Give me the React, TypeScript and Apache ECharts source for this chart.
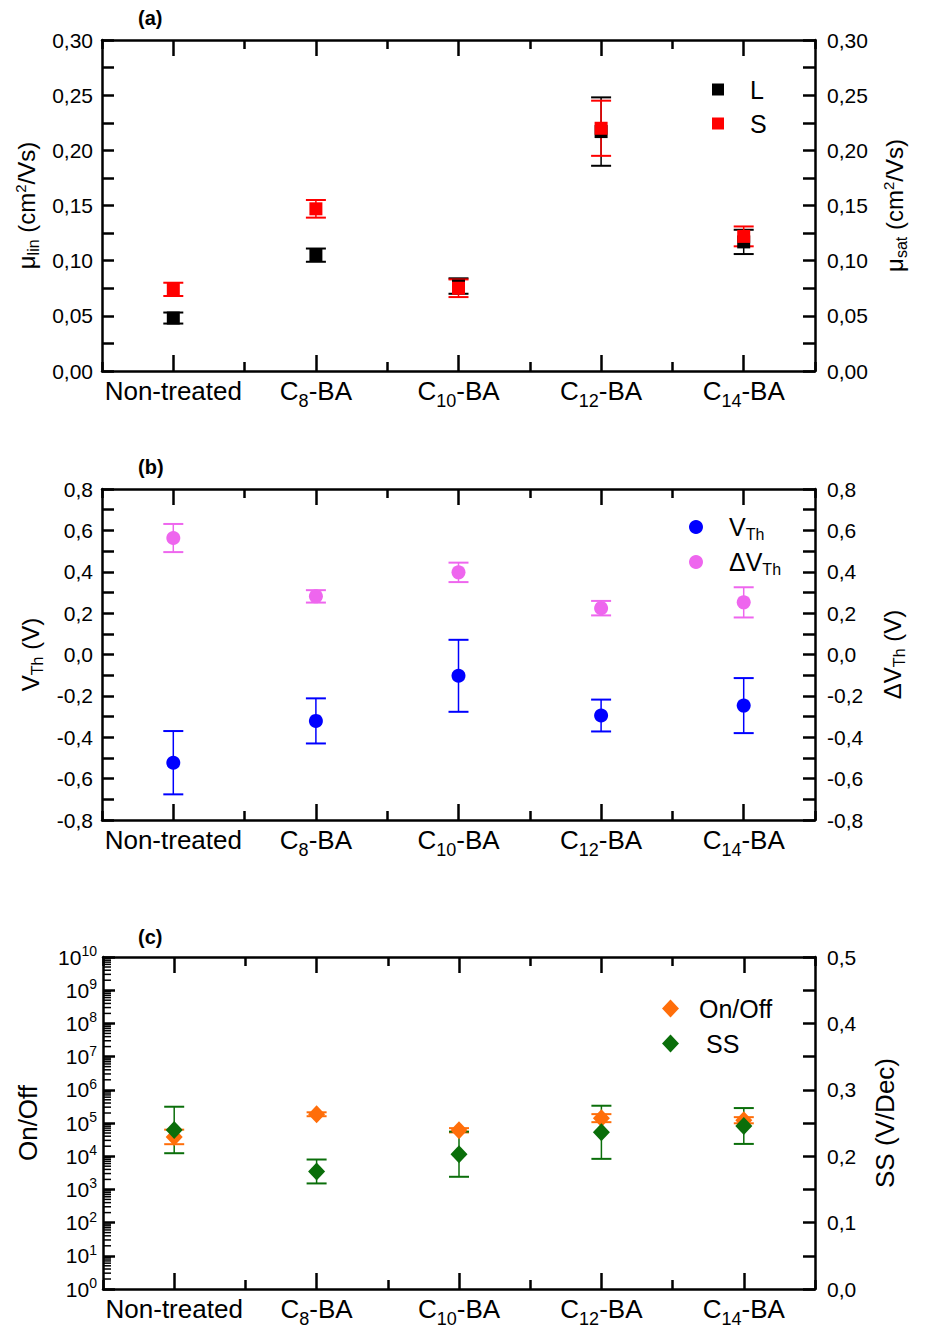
import React, { useEffect, useRef } from 'react';
import * as echarts from 'echarts';

// ---------- data ----------
const categories = ['Non-treated', 'C8-BA', 'C10-BA', 'C12-BA', 'C14-BA'];

// panel (a): mobility
const muLin = [0.048, 0.105, 0.077, 0.217, 0.117];
const muLinErr = [0.005, 0.006, 0.007, 0.031, 0.011];
const muSat = [0.074, 0.147, 0.075, 0.22, 0.122];
const muSatErr = [0.006, 0.008, 0.008, 0.025, 0.009];

// panel (b): threshold voltage
const vTh = [-0.523, -0.321, -0.103, -0.295, -0.247];
const vThErr = [0.153, 0.109, 0.174, 0.077, 0.133];
const dVTh = [0.563, 0.281, 0.397, 0.224, 0.252];
const dVThErr = [0.068, 0.03, 0.047, 0.035, 0.073];

// panel (c): on/off ratio and subthreshold swing
const onOff = [3.8e4, 1.85e5, 6.1e4, 1.4e5, 1.22e5];
const onOffLow = [2.3e4, 1.6e5, 5.2e4, 1.06e5, 0.98e5];
const onOffHigh = [6.3e4, 2.1e5, 7.0e4, 1.85e5, 1.5e5];
const ss = [0.2395, 0.177, 0.203, 0.236, 0.2455];
const ssErr = [0.035, 0.018, 0.034, 0.04, 0.027];

// axis tick labels
const decades = [0, 1, 2, 3, 4, 5, 6, 7, 8, 9, 10];

// ---------- styling ----------
const FONT = '"Liberation Sans", Arial, Helvetica, sans-serif';
const BLACK = '#000000';
const AXIS_W = 2.5;
const RED = '#FF0000';
const BLUE = '#0000FF';
const MAGENTA = '#EE66EE';
const ORANGE = '#FF6E0A';
const GREEN = '#0A6E0A';

const grids = [
  { left: 102, top: 40, width: 713, height: 331 },
  { left: 102, top: 489, width: 713, height: 331 },
  { left: 103, top: 957, width: 712, height: 332 },
];

const catRich = {
  a: { fontSize: 26, lineHeight: 30, color: BLACK, fontFamily: FONT },
  s: { fontSize: 18, lineHeight: 30, padding: [20, 0, 0, 0], color: BLACK, fontFamily: FONT },
};
function catFmt(name: string) {
  const m = /^C(\d+)-BA$/.exec(name);
  return m ? `{a|C}{s|${m[1]}}{a|-BA}` : `{a|${name}}`;
}

const nameRich = {
  a: { fontSize: 24, lineHeight: 30, color: BLACK, fontFamily: FONT },
  s: { fontSize: 16, lineHeight: 30, padding: [14, 0, 0, 0], color: BLACK, fontFamily: FONT },
  p: { fontSize: 15, lineHeight: 30, padding: [0, 0, 12, 0], color: BLACK, fontFamily: FONT },
};

const lineStyle = { color: BLACK, width: AXIS_W };

function xAxesFor(g: number) {
  const base = {
    type: 'category',
    gridIndex: g,
    data: categories,
    boundaryGap: true,
    splitLine: { show: false },
  };
  const longTick = { show: true, inside: true, alignWithLabel: true, interval: 0, length: 16, lineStyle };
  const shortTick = { show: true, inside: true, alignWithLabel: false, interval: 0, length: 9, lineStyle };
  return [
    {
      ...base,
      position: 'bottom',
      axisLine: { show: true, onZero: false, lineStyle },
      axisTick: longTick,
      axisLabel: { show: true, interval: 0, margin: 5, formatter: catFmt, rich: catRich },
    },
    { ...base, position: 'bottom', axisLine: { show: false, onZero: false }, axisTick: shortTick, axisLabel: { show: false } },
    { ...base, position: 'top', axisLine: { show: true, onZero: false, lineStyle }, axisTick: longTick, axisLabel: { show: false } },
    { ...base, position: 'top', axisLine: { show: false, onZero: false }, axisTick: shortTick, axisLabel: { show: false } },
  ];
}

function commaFmt(digits: number) {
  return (v: number) => {
    const x = Math.abs(v) < 1e-9 ? 0 : v;
    return x.toFixed(digits).replace('.', ',');
  };
}

function valueY(g: number, pos: string, min: number, max: number, interval: number, digits: number, name: string, nameGap: number) {
  return {
    type: 'value',
    gridIndex: g,
    position: pos,
    min,
    max,
    interval,
    axisLine: { show: true, onZero: false, lineStyle },
    axisTick: { show: true, inside: true, length: 12, lineStyle },
    minorTick: { show: true, splitNumber: 2, length: 12, lineStyle },
    splitLine: { show: false },
    minorSplitLine: { show: false },
    axisLabel: { margin: pos === 'left' ? 9 : 12, fontSize: 21, color: BLACK, fontFamily: FONT, formatter: commaFmt(digits) },
    name,
    nameLocation: 'middle',
    nameGap,
    nameRotate: 90,
    nameTextStyle: { rich: nameRich, fontSize: 24, color: BLACK, fontFamily: FONT },
  };
}

function errorBars(name: string, xIdx: number, yIdx: number, data: number[][], color: string) {
  return {
    type: 'custom',
    name,
    xAxisIndex: xIdx,
    yAxisIndex: yIdx,
    data,
    encode: { x: 0, y: [1, 2] },
    silent: true,
    renderItem: (params: any, api: any) => {
      const x = api.value(0);
      const a = api.coord([x, api.value(1)]);
      const b = api.coord([x, api.value(2)]);
      const h = 10;
      return {
        type: 'group',
        children: [
          { type: 'line', shape: { x1: a[0], y1: a[1], x2: b[0], y2: b[1] }, style: { stroke: color, lineWidth: 1.5 } },
          { type: 'line', shape: { x1: a[0] - h, y1: a[1], x2: a[0] + h, y2: a[1] }, style: { stroke: color, lineWidth: 2 } },
          { type: 'line', shape: { x1: b[0] - h, y1: b[1], x2: b[0] + h, y2: b[1] }, style: { stroke: color, lineWidth: 2 } },
        ],
      };
    },
  };
}

const sym = (vals: number[], errs: number[]) => vals.map((v, i) => [i, v - errs[i], v + errs[i]]);

// minor ticks of the log axis (2..9 x 10^n)
const logMinor: number[][] = [];
decades.slice(0, -1).forEach((n) => {
  [2, 3, 4, 5, 6, 7, 8, 9].forEach((k) => logMinor.push([0, k * Math.pow(10, n)]));
});

function legendFor(names: string[], left: number, top: number, itemGap: number, w: number, h: number, sp: number) {
  return {
    data: names,
    orient: 'vertical',
    left,
    top,
    padding: 0,
    itemGap,
    itemWidth: w,
    itemHeight: h,
    formatter: (n: string) => {
      if (n === 'VTh') return '{sp| }{t|V}{s|Th}';
      if (n === 'ΔVTh') return '{sp| }{t|ΔV}{s|Th}';
      if (n === 'SS') return '{sp2| }{t|SS}';
      return `{sp| }{t|${n}}`;
    },
    textStyle: {
      rich: {
        sp: { width: sp },
        sp2: { width: sp + 7 },
        t: { fontSize: 25, lineHeight: 30, color: BLACK, fontFamily: FONT },
        s: { fontSize: 16, lineHeight: 30, padding: [14, 0, 0, 0], color: BLACK, fontFamily: FONT },
      },
    },
  };
}

const scatterStyle = (color: string) => ({ color, opacity: 1 });

export default function App() {
  const ref = useRef<HTMLDivElement>(null);
  useEffect(() => {
    if (!ref.current) return;
    const chart = echarts.init(ref.current, undefined, { renderer: 'svg' });
    const titleStyle = { fontSize: 20, fontWeight: 'bold', color: BLACK, fontFamily: FONT };
    const option: any = {
      animation: false,
      backgroundColor: '#ffffff',
      textStyle: { fontFamily: FONT, color: BLACK },
      title: [
        { text: '(a)', left: 138, top: 8, padding: 0, textStyle: titleStyle },
        { text: '(b)', left: 138, top: 457, padding: 0, textStyle: titleStyle },
        { text: '(c)', left: 138, top: 927, padding: 0, textStyle: titleStyle },
      ],
      grid: grids,
      xAxis: [...xAxesFor(0), ...xAxesFor(1), ...xAxesFor(2)],
      yAxis: [
        valueY(0, 'left', 0, 0.3, 0.05, 2, '{a|μ}{s|lin}{a| (cm}{p|2}{a|/Vs)}', 52),
        valueY(0, 'right', 0, 0.3, 0.05, 2, '{a|μ}{s|sat}{a| (cm}{p|2}{a|/Vs)}', 64),
        valueY(1, 'left', -0.8, 0.8, 0.2, 1, '{a|V}{s|Th}{a| (V)}', 49),
        valueY(1, 'right', -0.8, 0.8, 0.2, 1, '{a|ΔV}{s|Th}{a| (V)}', 62),
        {
          type: 'log',
          logBase: 10,
          gridIndex: 2,
          position: 'left',
          min: 1,
          max: 1e10,
          interval: 1,
          splitNumber: 10,
          axisLine: { show: true, onZero: false, lineStyle },
          axisTick: { show: true, inside: true, length: 12, lineStyle },
          splitLine: { show: false },
          axisLabel: {
            margin: 6,
            color: BLACK,
            fontFamily: FONT,
            formatter: (v: number) => `{b|10}{p|${Math.round(Math.log10(v))}}`,
            rich: {
              b: { fontSize: 21, color: BLACK, fontFamily: FONT },
              p: { fontSize: 14, padding: [0, 0, 12, 0], color: BLACK, fontFamily: FONT },
            },
          },
          name: '{a|On/Off}',
          nameLocation: 'middle',
          nameGap: 60,
          nameRotate: 90,
          nameTextStyle: { rich: { a: { fontSize: 26, lineHeight: 30, color: BLACK, fontFamily: FONT } } },
        },
        {
          ...valueY(2, 'right', 0, 0.5, 0.1, 1, '{a|SS (V/Dec)}', 55),
          nameTextStyle: { rich: { a: { fontSize: 26, lineHeight: 30, color: BLACK, fontFamily: FONT } } },
        },
      ],
      legend: [
        legendFor(['L', 'S'], 712, 77, 9, 12, 12, 21),
        legendFor(['VTh', 'ΔVTh'], 689, 512, 5, 14, 14, 21),
        legendFor(['On/Off', 'SS'], 662, 996, 10, 17, 18, 15),
      ],
      series: [
        // (a)
        errorBars('L err', 0, 0, sym(muLin, muLinErr), BLACK),
        { type: 'scatter', name: 'L', xAxisIndex: 0, yAxisIndex: 0, data: muLin, symbol: 'rect', symbolSize: 13, itemStyle: scatterStyle(BLACK) },
        errorBars('S err', 0, 1, sym(muSat, muSatErr), RED),
        { type: 'scatter', name: 'S', xAxisIndex: 0, yAxisIndex: 1, data: muSat, symbol: 'rect', symbolSize: 13, itemStyle: scatterStyle(RED) },
        // (b)
        errorBars('VTh err', 4, 2, sym(vTh, vThErr), BLUE),
        { type: 'scatter', name: 'VTh', xAxisIndex: 4, yAxisIndex: 2, data: vTh, symbol: 'circle', symbolSize: 14, itemStyle: scatterStyle(BLUE) },
        errorBars('ΔVTh err', 4, 3, sym(dVTh, dVThErr), MAGENTA),
        { type: 'scatter', name: 'ΔVTh', xAxisIndex: 4, yAxisIndex: 3, data: dVTh, symbol: 'circle', symbolSize: 14, itemStyle: scatterStyle(MAGENTA) },
        // (c)
        {
          type: 'custom',
          name: 'log minor ticks',
          xAxisIndex: 8,
          yAxisIndex: 4,
          data: logMinor,
          silent: true,
          renderItem: (params: any, api: any) => {
            const y = api.coord([0, api.value(1)])[1];
            const cs = params.coordSys;
            return { type: 'line', shape: { x1: cs.x, y1: y, x2: cs.x + 8, y2: y }, style: { stroke: BLACK, lineWidth: 1.5 } };
          },
        },
        errorBars('On/Off err', 8, 4, onOff.map((_, i) => [i, onOffLow[i], onOffHigh[i]]), ORANGE),
        { type: 'scatter', name: 'On/Off', xAxisIndex: 8, yAxisIndex: 4, data: onOff, symbol: 'diamond', symbolSize: [17, 18], itemStyle: scatterStyle(ORANGE) },
        errorBars('SS err', 8, 5, sym(ss, ssErr), GREEN),
        { type: 'scatter', name: 'SS', xAxisIndex: 8, yAxisIndex: 5, data: ss, symbol: 'diamond', symbolSize: [17, 18], itemStyle: scatterStyle(GREEN) },
      ],
    };
    chart.setOption(option);
    return () => chart.dispose();
  }, []);
  return <div ref={ref} style={{ position: 'fixed', left: 0, top: 0, width: 927, height: 1328, background: '#fff' }} />;
}
